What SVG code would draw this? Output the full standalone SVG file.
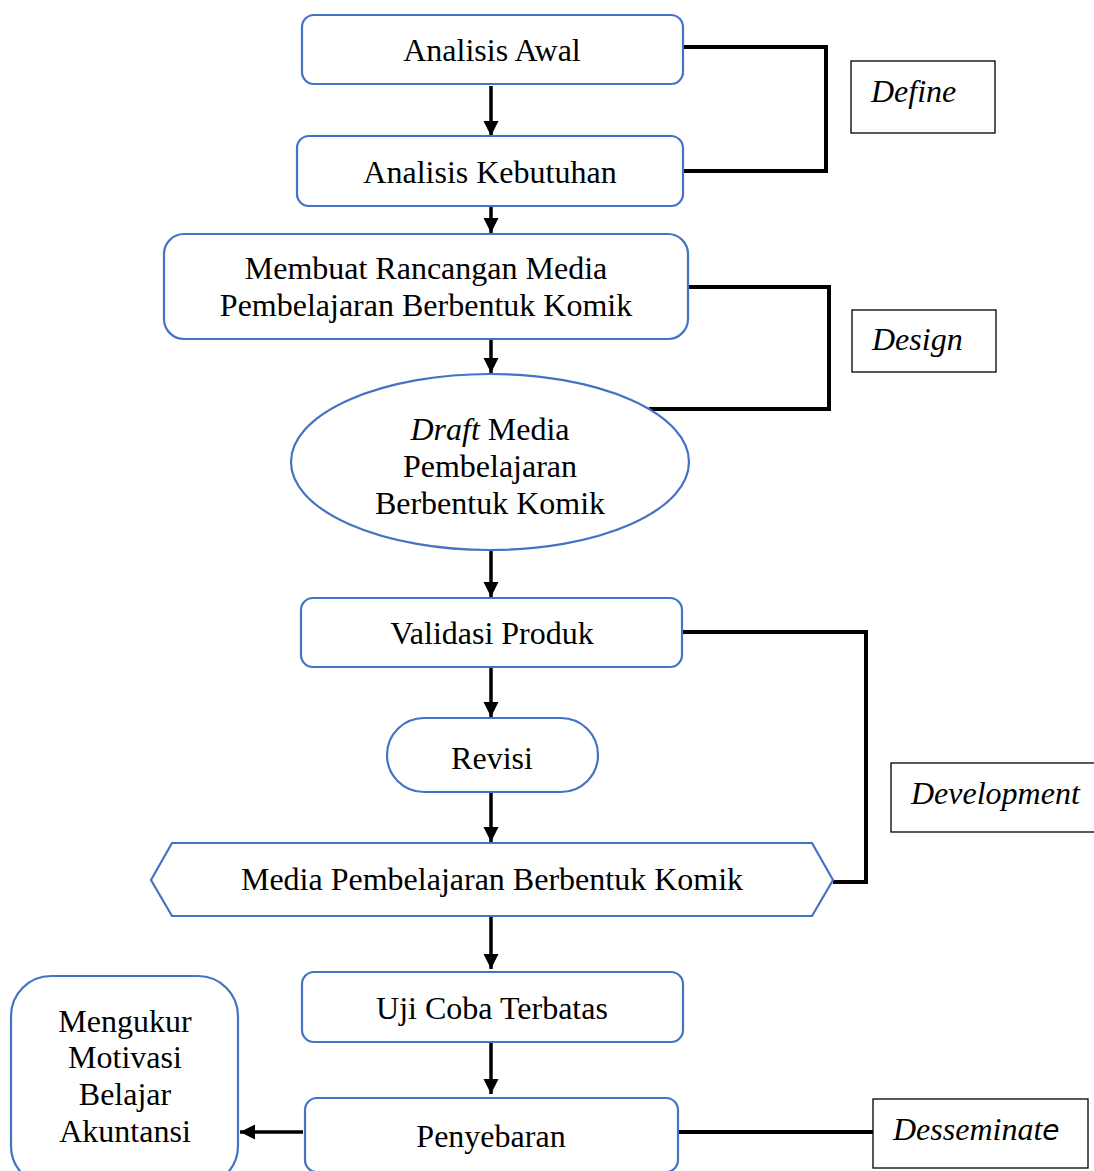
<svg xmlns="http://www.w3.org/2000/svg" width="1094" height="1171" viewBox="0 0 1094 1171">
<defs>
<style>
.n{fill:#fff;stroke:#4472C4;stroke-width:2.2}
.t{font-family:"Liberation Serif","Times New Roman",serif;font-size:32px;fill:#000;text-anchor:middle}
.l{font-family:"Liberation Serif","Times New Roman",serif;font-size:32px;font-style:italic;fill:#000}
.lb{fill:#fff;stroke:#000;stroke-width:1.3}
.a{stroke:#000;stroke-width:3.5;fill:none;marker-end:url(#ah)}
.b{stroke:#000;stroke-width:4;fill:none}
</style>
<marker id="ah" viewBox="0 0 10 10" refX="10" refY="5" markerWidth="4.4" markerHeight="4.4" orient="auto" markerUnits="strokeWidth">
<path d="M0,0 L10,5 L0,10 z" fill="#000"/>
</marker>
</defs>
<rect width="1094" height="1171" fill="#fff"/>
<g id="connectors">
<line class="a" x1="491" y1="86" x2="491" y2="136"/>
<line class="a" x1="491" y1="206" x2="491" y2="233"/>
<line class="a" x1="491" y1="339" x2="491" y2="373"/>
<line class="a" x1="491" y1="548" x2="491" y2="597"/>
<line class="a" x1="491" y1="667" x2="491" y2="717"/>
<line class="a" x1="491" y1="792" x2="491" y2="842"/>
<line class="a" x1="491" y1="916" x2="491" y2="969"/>
<line class="a" x1="491" y1="1042" x2="491" y2="1094"/>
<line class="a" x1="303" y1="1132" x2="240" y2="1132"/>
<polyline class="b" points="683,47 826,47 826,171 683,171"/>
<polyline class="b" points="688,287 829,287 829,409 649,409"/>
<polyline class="b" points="682,632 866,632 866,882 833,882"/>
<line class="b" x1="678" y1="1132" x2="873" y2="1132"/>
</g>
<g id="n1"><rect class="n" x="302" y="15" width="381" height="69" rx="12"/><text class="t" x="492" y="61">Analisis Awal</text></g>
<g id="n2"><rect class="n" x="297" y="136" width="386" height="70" rx="12"/><text class="t" x="490" y="183">Analisis Kebutuhan</text></g>
<g id="n3"><rect class="n" x="164" y="234" width="524" height="105" rx="20"/><text class="t" x="426" y="279">Membuat Rancangan Media</text><text class="t" x="426" y="316">Pembelajaran Berbentuk Komik</text></g>
<g id="n4"><ellipse class="n" cx="490" cy="462" rx="199" ry="88"/><text class="t" x="490" y="440"><tspan font-style="italic">Draft</tspan> Media</text><text class="t" x="490" y="477">Pembelajaran</text><text class="t" x="490" y="514">Berbentuk Komik</text></g>
<g id="n5"><rect class="n" x="301" y="598" width="381" height="69" rx="12"/><text class="t" x="492" y="644">Validasi Produk</text></g>
<g id="n6"><rect class="n" x="387" y="718" width="211" height="74" rx="37"/><text class="t" x="492" y="769">Revisi</text></g>
<g id="n7"><polygon class="n" points="151,880 172,843 812,843 833,880 812,916 172,916"/><text class="t" x="492" y="890">Media Pembelajaran Berbentuk Komik</text></g>
<g id="n8"><rect class="n" x="302" y="972" width="381" height="70" rx="12"/><text class="t" x="492" y="1019">Uji Coba Terbatas</text></g>
<g id="n9"><rect class="n" x="305" y="1098" width="373" height="74" rx="12"/><text class="t" x="491" y="1147">Penyebaran</text></g>
<g id="n10"><rect class="n" x="11" y="976" width="227" height="210" rx="40"/><text class="t" x="125" y="1032">Mengukur</text><text class="t" x="125" y="1068">Motivasi</text><text class="t" x="125" y="1105">Belajar</text><text class="t" x="125" y="1142">Akuntansi</text></g>
<g id="l1"><rect class="lb" x="851" y="61" width="144" height="72"/><text class="l" x="871" y="102">Define</text></g>
<g id="l2"><rect class="lb" x="852" y="310" width="144" height="62"/><text class="l" x="872" y="350">Design</text></g>
<g id="l3"><rect class="lb" x="891" y="763" width="210" height="69"/><text class="l" x="911" y="804">Development</text></g>
<g id="l4"><rect class="lb" x="873" y="1099" width="215" height="69"/><text class="l" x="893" y="1140">Desseminat<tspan font-family="'DejaVu Sans',sans-serif" font-size="28">e</tspan></text></g>
</svg>
